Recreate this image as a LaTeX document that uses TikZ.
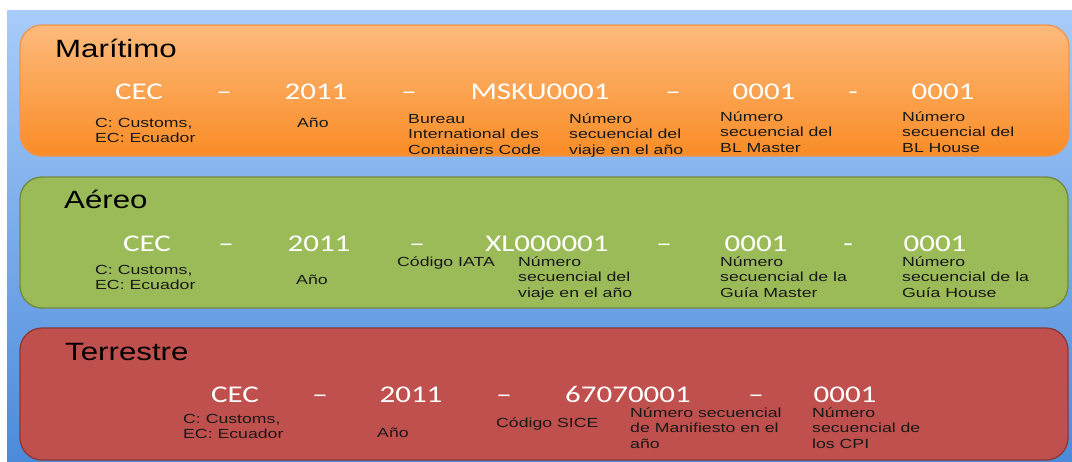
\documentclass[tikz,border=0pt]{standalone}
\usepackage{fontspec}
\setmainfont{Liberation Sans}
\newfontfamily\codefont[FakeStretch=1.29]{Carlito}
\newfontfamily\lblfont[FakeStretch=1.34]{Liberation Sans}
\newfontfamily\ttlfont[FakeStretch=1.25]{Liberation Sans}
\definecolor{bgtop}{RGB}{168,204,250}
\definecolor{bgbot}{RGB}{76,139,218}
\definecolor{maritop}{RGB}{253,186,124}
\definecolor{maribot}{RGB}{249,140,38}
\definecolor{mariline}{RGB}{238,150,80}
\definecolor{aerofill}{RGB}{155,187,89}
\definecolor{aeroline}{RGB}{113,137,63}
\definecolor{terrfill}{RGB}{192,80,77}
\definecolor{terrline}{RGB}{140,56,54}
\begin{document}
\begin{tikzpicture}[x=1pt,y=-1pt,
    band/.style={rounded corners=22pt, line width=1.3pt},
    title/.style={anchor=base west, inner sep=0pt, font=\ttlfont\fontsize{25}{25}\selectfont},
    code/.style={anchor=base, inner sep=0pt, text=white, font=\codefont\fontsize{24}{24}\selectfont},
    lbl/.style={anchor=base west, inner sep=0pt, align=left, text=black!90, font=\lblfont\fontsize{13.2}{15.5}\selectfont}]
        \useasboundingbox (0,0) rectangle (1072,461);
        \fill[white] (0,0) rectangle (1072,461);
        %fondo
        \shade[top color=bgtop, bottom color=bgbot] (7,10) rectangle (1072,461);

        %maritimo (labels placed at the baseline of their last line)
        \shade[band, draw=mariline, top color=maritop, bottom color=maribot] (20,25) rectangle (1069,156);
        \node[title] (tmar) at (55,57) {Marítimo};
        \node[code] (mcec) at (139,99) {CEC};
        \node[code] (md1) at (224,99) {–};
        \node[code] (myear) at (316,99) {2011};
        \node[code] (md2) at (409,99) {–};
        \node[code] (mbic) at (540,99) {MSKU0001};
        \node[code] (md3) at (673,99) {–};
        \node[code] (mbl) at (764,99) {0001};
        \node[code] (md4) at (853,99) {-};
        \node[code] (mhouse) at (943,99) {0001};
        \node[lbl] (lmcec) at (95,142.5) {C: Customs,\\EC: Ecuador};
        \node[lbl] (lmyear) at (297,127) {Año};
        \node[lbl] (lmbic) at (408,154) {Bureau\\International des\\Containers Code};
        \node[lbl] (lmviaje) at (569,154) {Número\\secuencial del\\viaje en el año};
        \node[lbl] (lmbl) at (720,152) {Número\\secuencial del\\BL Master};
        \node[lbl] (lmhouse) at (902,152) {Número\\secuencial del\\BL House};

        %aereo
        \draw[band, draw=aeroline, fill=aerofill] (20,177) rectangle (1068,308);
        \node[title] (taer) at (64,208) {Aéreo};
        \node[code] (acec) at (147,251) {CEC};
        \node[code] (ad1) at (226,251) {–};
        \node[code] (ayear) at (319,251) {2011};
        \node[code] (ad2) at (417,251) {–};
        \node[code] (aiata) at (547,251) {XL000001};
        \node[code] (ad3) at (664,251) {–};
        \node[code] (aguia) at (756,251) {0001};
        \node[code] (ad4) at (848,251) {-};
        \node[code] (ahouse) at (935,251) {0001};
        \node[lbl] (lacec) at (95,289.5) {C: Customs,\\EC: Ecuador};
        \node[lbl] (layear) at (296,284) {Año};
        \node[lbl] (laiata) at (397,266) {Código IATA};
        \node[lbl] (laviaje) at (518,297) {Número\\secuencial del\\viaje en el año};
        \node[lbl] (laguia) at (720,297) {Número\\secuencial de la\\Guía Master};
        \node[lbl] (lahouse) at (902,297) {Número\\secuencial de la\\Guía House};

        %terrestre
        \draw[band, draw=terrline, fill=terrfill] (20,328) rectangle (1068,460);
        \node[title] (tter) at (65,360) {Terrestre};
        \node[code] (tcec) at (235,402) {CEC};
        \node[code] (td1) at (320,402) {–};
        \node[code] (tyear) at (411,402) {2011};
        \node[code] (td2) at (504,402) {–};
        \node[code] (tsice) at (628,402) {67070001};
        \node[code] (td3) at (756,402) {–};
        \node[code] (tcpi) at (845,402) {0001};
        \node[lbl] (ltcec) at (183,438.5) {C: Customs,\\EC: Ecuador};
        \node[lbl] (ltyear) at (377,437) {Año};
        \node[lbl] (ltsice) at (496,427) {Código SICE};
        \node[lbl] (ltmanif) at (630,448) {Número secuencial\\de Manifiesto en el\\año};
        \node[lbl] (ltcpi) at (812,448) {Número\\secuencial de\\los CPI};
\end{tikzpicture}
\end{document}
